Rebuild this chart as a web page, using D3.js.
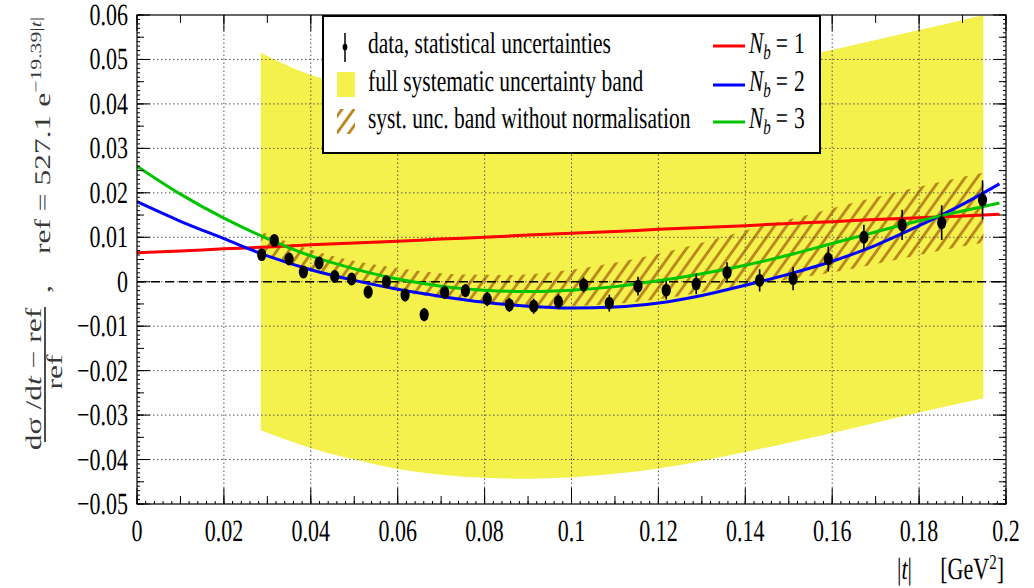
<!DOCTYPE html>
<html>
<head>
<meta charset="utf-8">
<script src="https://cdn.jsdelivr.net/npm/d3@7"></script>
<style>
body { margin: 0; background: #fff; }
svg { display: block; font-family: "Liberation Serif", "DejaVu Serif", serif; text-rendering: geometricPrecision; }
</style>
</head>
<body>
<svg id="chart" width="1034" height="588"></svg>
<script>
// data points (|t| in GeV^2, relative deviation)
const pointT = [0.0287, 0.0316, 0.0350, 0.0383, 0.0419, 0.0455, 0.0494, 0.0532, 0.0574, 0.0617,
    0.0661, 0.0708, 0.0756, 0.0806, 0.0857, 0.0913, 0.0970, 0.1028, 0.1087, 0.1153,
    0.1218, 0.1287, 0.1358, 0.1433, 0.1510, 0.1591, 0.1673, 0.1761, 0.1852, 0.1946]
const pointValues = [0.0061, 0.0093, 0.0051, 0.0022, 0.0042, 0.0012, 0.0006, -0.0023, 0.0000, -0.0030,
    -0.0074, -0.0024, -0.0020, -0.0039, -0.0052, -0.0055, -0.0045, -0.0007, -0.0048, -0.0010,
    -0.0019, -0.0005, 0.0021, 0.0003, 0.0007, 0.0051, 0.0100, 0.0128, 0.0133, 0.0184]
const pointErrors = [0.0012, 0.0012, 0.0012, 0.0012, 0.0013, 0.0013, 0.0013, 0.0014, 0.0014, 0.0014,
    0.0015, 0.0015, 0.0015, 0.0016, 0.0016, 0.0017, 0.0017, 0.0017, 0.0019, 0.0021,
    0.0021, 0.0023, 0.0023, 0.0025, 0.0026, 0.0028, 0.0028, 0.0034, 0.0039, 0.0044]

// fit curves
const curveT = [0, 0.01, 0.02, 0.03, 0.04, 0.05, 0.06, 0.07, 0.08, 0.09, 0.10,
    0.11, 0.12, 0.13, 0.14, 0.15, 0.16, 0.17, 0.18, 0.19, 0.1985]
const nb1Values = [0.0065, 0.0069, 0.0074, 0.0078, 0.0083, 0.0087, 0.0091, 0.0096, 0.0100, 0.0105, 0.0109,
    0.0113, 0.0118, 0.0122, 0.0126, 0.0131, 0.0135, 0.0140, 0.0144, 0.0148, 0.0152]
const nb2Values = [0.0180, 0.0136, 0.0097, 0.0058, 0.0027, 0.0003, -0.0017, -0.0033, -0.0046, -0.0055, -0.0059,
    -0.0057, -0.0048, -0.0031, -0.0008, 0.0017, 0.0046, 0.0082, 0.0126, 0.0174, 0.0220]
const nb3Values = [0.0260, 0.0197, 0.0143, 0.0097, 0.0058, 0.0029, 0.0006, -0.0010, -0.0019, -0.0022, -0.0019,
    -0.0011, 0.0002, 0.0018, 0.0037, 0.0060, 0.0086, 0.0112, 0.0137, 0.0159, 0.0177]

// full systematic band (yellow)
const bandT = [0.0285, 0.04, 0.05, 0.06, 0.07, 0.08, 0.09, 0.10, 0.11, 0.12,
    0.13, 0.14, 0.15, 0.157, 0.17, 0.18, 0.1948]
const bandHigh = [0.0515, 0.0465, 0.0440, 0.0425, 0.0415, 0.0410, 0.0410, 0.0415, 0.0425, 0.0440,
    0.0460, 0.0482, 0.0500, 0.0515, 0.0544, 0.0566, 0.0600]
const bandLow = [-0.0334, -0.0374, -0.0400, -0.0421, -0.0434, -0.0441, -0.0443, -0.0440, -0.0432, -0.0420,
    -0.0403, -0.0383, -0.0362, -0.0347, -0.0317, -0.0294, -0.0262]

// band without normalisation (hatched)
const hatchT = [0.0285, 0.035, 0.045, 0.055, 0.065, 0.075, 0.085, 0.095, 0.105, 0.115,
    0.125, 0.135, 0.145, 0.155, 0.165, 0.175, 0.185, 0.1948]
const hatchHigh = [0.0113, 0.0088, 0.0058, 0.0038, 0.0024, 0.0016, 0.0015, 0.0021, 0.0034, 0.0052,
    0.0075, 0.0101, 0.0128, 0.0152, 0.0178, 0.0202, 0.0225, 0.0245]
const hatchLow = [0.0060, 0.0040, 0.0010, -0.0010, -0.0030, -0.0043, -0.0051, -0.0055, -0.0053, -0.0045,
    -0.0032, -0.0015, -0.0002, 0.0013, 0.0030, 0.0050, 0.0070, 0.0088]

const legendLabels = ['data, statistical uncertainties', 'full systematic uncertainty band',
    'syst. unc. band without normalisation']
const fitNames = ['1', '2', '3']
const fitColors = ['#ff0000', '#0000ff', '#00c400']

const stretch = 1.4
const yellow = '#f4f04c'
const hatchColor = '#b8861a'

const svg = d3.select('#chart')
const x = d3.scaleLinear().domain([0, 0.2]).range([137, 1006])
const y = d3.scaleLinear().domain([-0.05, 0.06]).range([504, 15])
const fmt = d3.format('~g')

const defs = svg.append('defs')
defs.append('clipPath').attr('id', 'plotclip')
    .append('rect')
    .attr('x', x(0)).attr('y', y(0.06))
    .attr('width', x(0.2) - x(0)).attr('height', y(-0.05) - y(0.06))

const pat = defs.append('pattern').attr('id', 'hatch')
    .attr('patternUnits', 'userSpaceOnUse')
    .attr('width', 12).attr('height', 12 * stretch)
pat.append('path')
    .attr('d', `M0,${12 * stretch} L12,0 M-3,${3 * stretch} L3,${-3 * stretch} M9,${15 * stretch} L15,${9 * stretch}`)
    .attr('stroke', hatchColor).attr('stroke-width', 2.8)

const plot = svg.append('g').attr('clip-path', 'url(#plotclip)')

function zipBand(ts, lo, hi) {
    return ts.map((t, i) => ({t: t, lo: lo[i], hi: hi[i]}))
}

const area = d3.area()
    .x(d => x(d.t)).y0(d => y(d.lo)).y1(d => y(d.hi))
    .curve(d3.curveMonotoneX)

plot.append('path')
    .datum(zipBand(bandT, bandLow, bandHigh))
    .attr('d', area)
    .attr('fill', yellow)

plot.append('path')
    .datum(zipBand(hatchT, hatchLow, hatchHigh))
    .attr('d', area)
    .attr('fill', 'url(#hatch)')

// grid
const grid = plot.append('g')
    .attr('stroke', '#555').attr('stroke-width', 1).attr('stroke-dasharray', '1.5,2.5')
grid.selectAll('.gx')
    .data(x.ticks(10).filter(d => d > 0 && d < 0.2))
    .join('line')
    .attr('x1', d => x(d)).attr('x2', d => x(d))
    .attr('y1', y(-0.05)).attr('y2', y(0.06))
grid.selectAll('.gy')
    .data(y.ticks(11).filter(d => d > -0.05 && d < 0.06))
    .join('line')
    .attr('x1', x(0)).attr('x2', x(0.2))
    .attr('y1', d => y(d)).attr('y2', d => y(d))

plot.append('line')
    .attr('x1', x(0)).attr('x2', x(0.2))
    .attr('y1', y(0)).attr('y2', y(0))
    .attr('stroke', '#000').attr('stroke-width', 1.4).attr('stroke-dasharray', '9,5')

// fit curves
const line = d3.line().x(d => x(d[0])).y(d => y(d[1])).curve(d3.curveMonotoneX)
const fits = [nb1Values, nb2Values, nb3Values]
fits.forEach((vals, i) => {
    plot.append('path')
        .datum(curveT.map((t, j) => [t, vals[j]]))
        .attr('d', line)
        .attr('fill', 'none')
        .attr('stroke', fitColors[i])
        .attr('stroke-width', 3)
})

// data points
const points = pointT.map((t, i) => ({t: t, v: pointValues[i], e: pointErrors[i]}))
plot.append('g').selectAll('line')
    .data(points)
    .join('line')
    .attr('x1', d => x(d.t)).attr('x2', d => x(d.t))
    .attr('y1', d => y(d.v - d.e)).attr('y2', d => y(d.v + d.e))
    .attr('stroke', '#000').attr('stroke-width', 1.6)
plot.append('g').selectAll('ellipse')
    .data(points)
    .join('ellipse')
    .attr('cx', d => x(d.t)).attr('cy', d => y(d.v))
    .attr('rx', 4.6).attr('ry', 4.6 * stretch)
    .attr('fill', '#000')

// frame + ticks
const axes = svg.append('g').attr('stroke', '#000').attr('fill', 'none')
axes.append('rect')
    .attr('x', x(0)).attr('y', y(0.06))
    .attr('width', x(0.2) - x(0)).attr('height', y(-0.05) - y(0.06))
    .attr('stroke-width', 1.2)

function xTicks(values, len, both) {
    axes.append('g').selectAll('line').data(values).join('line')
        .attr('x1', d => x(d)).attr('x2', d => x(d))
        .attr('y1', y(-0.05)).attr('y2', y(-0.05) - len)
    if (both) {
        axes.append('g').selectAll('line').data(values).join('line')
            .attr('x1', d => x(d)).attr('x2', d => x(d))
            .attr('y1', y(0.06)).attr('y2', y(0.06) + len)
    }
}
function yTicks(values, len) {
    axes.append('g').selectAll('line').data(values).join('line')
        .attr('x1', x(0)).attr('x2', x(0) + len)
        .attr('y1', d => y(d)).attr('y2', d => y(d))
    axes.append('g').selectAll('line').data(values).join('line')
        .attr('x1', x(0.2)).attr('x2', x(0.2) - len)
        .attr('y1', d => y(d)).attr('y2', d => y(d))
}
xTicks(x.ticks(100), 3, false)
xTicks(x.ticks(20), 8, true)
xTicks(x.ticks(10), 16, true)
yTicks(y.ticks(110), 3)
yTicks(y.ticks(22), 7)
yTicks(y.ticks(11), 13)

// tick labels
svg.append('g').selectAll('text')
    .data(y.ticks(11))
    .join('text')
    .attr('transform', d => `translate(128,${y(d) + 10}) scale(1,${stretch})`)
    .attr('text-anchor', 'end')
    .attr('font-size', 22)
    .text(d => fmt(d))

svg.append('g').selectAll('text')
    .data(x.ticks(10))
    .join('text')
    .attr('transform', d => `translate(${x(d)},541) scale(1,${stretch})`)
    .attr('text-anchor', 'middle')
    .attr('font-size', 22)
    .text(d => fmt(d))

// x title
const xt1 = svg.append('text')
    .attr('transform', `translate(897,579) scale(1,${stretch})`)
    .attr('font-size', 22)
xt1.append('tspan').text('|')
xt1.append('tspan').attr('font-style', 'italic').text('t')
xt1.append('tspan').text('|')
const xt2 = svg.append('text')
    .attr('transform', `translate(1004,579) scale(1,${stretch})`)
    .attr('text-anchor', 'end')
    .attr('font-size', 22)
xt2.append('tspan').text('[GeV')
xt2.append('tspan').attr('font-size', 15).attr('dy', -7).text('2')
xt2.append('tspan').attr('dy', 7).text(']')

// y title (rotated); a bit lighter since rotated glyphs render heavy
function rotText(px, py) {
    return svg.append('text')
        .attr('transform', `translate(${px},${py}) scale(1,${stretch}) rotate(-90)`)
        .attr('font-size', 22.5)
        .attr('fill', '#000')
        .attr('fill-opacity', 0.78)
}
const yt = rotText(50, 254)
yt.append('tspan').text('ref = 527.1 e')
yt.append('tspan').attr('font-size', 15.5).attr('dy', -9).text('\u221219.39|')
yt.append('tspan').attr('font-size', 15.5).attr('font-style', 'italic').text('t')
yt.append('tspan').attr('font-size', 15.5).text('|')
rotText(50, 293).text(',')
const num = rotText(41, 379).attr('text-anchor', 'middle')
num.append('tspan').text('d\u03c3 /d')
num.append('tspan').attr('font-style', 'italic').text('t')
num.append('tspan').text(' \u2212 ref')
svg.append('line')
    .attr('x1', 45).attr('x2', 45).attr('y1', 307).attr('y2', 442)
    .attr('stroke', '#000').attr('stroke-width', 1.4)
rotText(62, 372).attr('text-anchor', 'middle').text('ref')

// legend
const legend = svg.append('g')
legend.append('rect')
    .attr('x', 323).attr('y', 16).attr('width', 497).attr('height', 137)
    .attr('fill', '#fff').attr('stroke', '#000').attr('stroke-width', 2)

const rowBase = [53, 91, 128]
const rowMid = [46, 85, 122]
legend.selectAll('.lab')
    .data(legendLabels)
    .join('text')
    .attr('transform', (d, i) => `translate(368,${rowBase[i]}) scale(1,${stretch})`)
    .attr('font-size', 21.5)
    .text(d => d)

legend.append('line')
    .attr('x1', 345).attr('x2', 345).attr('y1', 33).attr('y2', 62)
    .attr('stroke', '#000').attr('stroke-width', 1.5)
legend.append('ellipse')
    .attr('cx', 345).attr('cy', 47).attr('rx', 2.4).attr('ry', 2.4 * stretch)
    .attr('fill', '#000')
legend.append('rect')
    .attr('x', 337).attr('y', 72).attr('width', 18).attr('height', 25)
    .attr('fill', yellow)
legend.append('rect')
    .attr('x', 337).attr('y', 109).attr('width', 18).attr('height', 25)
    .attr('fill', 'url(#hatch)')

fitNames.forEach((n, i) => {
    legend.append('line')
        .attr('x1', 713).attr('x2', 745)
        .attr('y1', rowMid[i]).attr('y2', rowMid[i])
        .attr('stroke', fitColors[i]).attr('stroke-width', 3)
    const t = legend.append('text')
        .attr('transform', `translate(749,${rowBase[i]}) scale(1,${stretch})`)
        .attr('font-size', 21.5)
    t.append('tspan').attr('font-style', 'italic').text('N')
    t.append('tspan').attr('font-style', 'italic').attr('font-size', 15).attr('dy', 4).text('b')
    t.append('tspan').attr('dy', -4).attr('dx', 5).text('=')
    t.append('tspan').attr('dx', 6).text(n)
})
</script>
</body>
</html>
